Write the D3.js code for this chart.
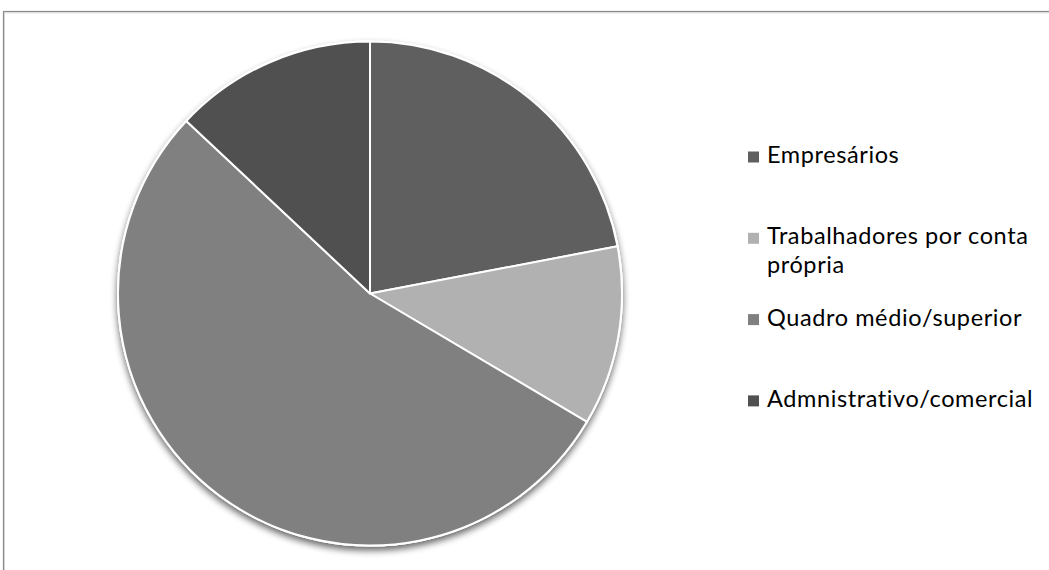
<!DOCTYPE html>
<html>
<head>
<meta charset="utf-8">
<script src="https://cdn.jsdelivr.net/npm/d3@7"></script>
<style>
  html, body { margin: 0; padding: 0; background: #fff; }
  svg { display: block; }
</style>
</head>
<body>
<svg id="chart" width="1049" height="570"></svg>
<script>
// Profissões — share of each occupational group (%)
const categories = ["Empresários", "Trabalhadores por conta própria", "Quadro médio/superior", "Admnistrativo/comercial"];
const values = [22, 11.5, 53.5, 13];
const legendLines = [["Empresários"], ["Trabalhadores por conta", "própria"], ["Quadro médio/superior"], ["Admnistrativo/comercial"]];
const colors = ["#5f5f5f", "#b1b1b1", "#808080", "#505050"];

const W = 1049, H = 570;
const svg = d3.select("#chart");

// chart frame (open at the right and bottom edges)
svg.append("rect")
  .attr("x", 3.5).attr("y", 11.5)
  .attr("width", W + 20).attr("height", H + 20)
  .attr("fill", "#fff")
  .attr("stroke", "#8a8a8a").attr("stroke-width", 1.2);
svg.append("path")
  .attr("d", `M4.5,${H + 20} V12.8 H${W + 20}`)
  .attr("fill", "none").attr("stroke", "#d4d4d4").attr("stroke-width", 1);

// soft shadow below the pie
const defs = svg.append("defs");
const f = defs.append("filter").attr("id", "shadow")
  .attr("x", "-10%").attr("y", "-10%").attr("width", "120%").attr("height", "125%");
f.append("feGaussianBlur").attr("in", "SourceAlpha").attr("stdDeviation", 3.5).attr("result", "b");
f.append("feOffset").attr("in", "b").attr("dx", 0).attr("dy", 4).attr("result", "o");
f.append("feComponentTransfer").attr("in", "o").attr("result", "s")
  .append("feFuncA").attr("type", "linear").attr("slope", 0.6);
const m = f.append("feMerge");
m.append("feMergeNode").attr("in", "s");
m.append("feMergeNode").attr("in", "SourceGraphic");

const cx = 370, cy = 293.5, r = 252;
const pie = d3.pie().sort(null).value(d => d.v);
const arc = d3.arc().innerRadius(0).outerRadius(r);
const data = categories.map((c, i) => ({ c, v: values[i], color: colors[i] }));

const g = svg.append("g").attr("transform", `translate(${cx},${cy})`);
g.append("circle").attr("r", r + 1).attr("fill", "#fff").attr("filter", "url(#shadow)");
g.selectAll("path.slice")
  .data(pie(data))
  .join("path")
  .attr("class", "slice")
  .attr("d", arc)
  .attr("fill", d => d.data.color)
  .attr("stroke", "#fff")
  .attr("stroke-width", 2)
  .attr("stroke-linejoin", "round");

// legend
const lx = 748, firstBase = 163, step = 81.3, lineH = 28.5;
const leg = svg.append("g").attr("font-family", "Lato, 'Open Sans', sans-serif")
  .attr("font-size", 23.5).attr("letter-spacing", 0.6).attr("fill", "#000");
data.forEach((d, i) => {
  const base = firstBase + i * step;
  leg.append("rect")
    .attr("x", lx).attr("y", base - 11.5)
    .attr("width", 11).attr("height", 11)
    .attr("fill", d.color);
  const t = leg.append("text").attr("x", lx + 19).attr("y", base);
  legendLines[i].forEach((ln, k) => {
    t.append("tspan").attr("x", lx + 19).attr("y", base + k * lineH).text(ln);
  });
});
</script>
</body>
</html>
